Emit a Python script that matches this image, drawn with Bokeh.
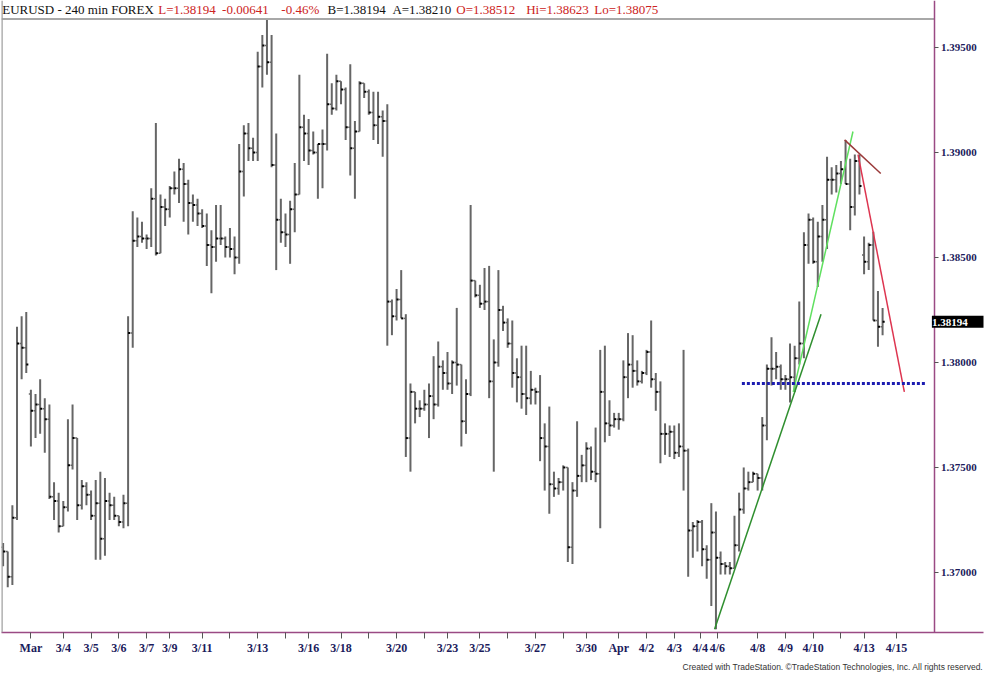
from bokeh.plotting import figure
from bokeh.models import (ColumnDataSource, FixedTicker, PrintfTickFormatter, Span,
                          Label, Title, Range1d, LinearAxis)
from bokeh.embed import file_html
from bokeh.resources import INLINE

# ---------------- data (EURUSD 240-min bars) ----------------
opens = [1.3712, 1.3710, 1.3698, 1.3726, 1.3809, 1.3807, 1.3785, 1.3777, 1.3780, 1.3778,
         1.3773, 1.3736, 1.3734, 1.3722, 1.3731, 1.3751, 1.3764, 1.3732, 1.3741, 1.3737,
         1.3727, 1.3733, 1.3716, 1.3734, 1.3732, 1.3727, 1.3724, 1.3733, 1.3814, 1.3858,
         1.3860, 1.3859, 1.3859, 1.3878, 1.3852, 1.3874, 1.3873, 1.3883, 1.3883, 1.3892,
         1.3885, 1.3876, 1.3875, 1.3871, 1.3865, 1.3856, 1.3855, 1.3859, 1.3859, 1.3855,
         1.3854, 1.3850, 1.3891, 1.3909, 1.3902, 1.3900, 1.3941, 1.3951, 1.3943, 1.3894,
         1.3868, 1.3862, 1.3861, 1.3873, 1.3880, 1.3912, 1.3909, 1.3901, 1.3900, 1.3904,
         1.3904, 1.3923, 1.3921, 1.3934, 1.3930, 1.3912, 1.3902, 1.3910, 1.3933, 1.3929,
         1.3919, 1.3913, 1.3917, 1.3915, 1.3829, 1.3822, 1.3830, 1.3821, 1.3764, 1.3786,
         1.3778, 1.3778, 1.3780, 1.3784, 1.3780, 1.3798, 1.3795, 1.3790, 1.3800, 1.3799,
         1.3772, 1.3785, 1.3839, 1.3832, 1.3828, 1.3829, 1.3791, 1.3800, 1.3825, 1.3819,
         1.3809, 1.3795, 1.3793, 1.3785, 1.3783, 1.3787, 1.3786, 1.3764, 1.3760, 1.3742,
         1.3740, 1.3743, 1.3750, 1.3712, 1.3739, 1.3746, 1.3751, 1.3759, 1.3748, 1.3747,
         1.3786, 1.3771, 1.3770, 1.3773, 1.3773, 1.3793, 1.3799, 1.3796, 1.3791, 1.3795,
         1.3805, 1.3792, 1.3786, 1.3766, 1.3766, 1.3767, 1.3757, 1.3760, 1.3758, 1.3720,
         1.3722, 1.3724, 1.3711, 1.3706, 1.3719, 1.3707, 1.3704, 1.3703, 1.3702, 1.3713,
         1.3730, 1.3740, 1.3743, 1.3747, 1.3745, 1.3770, 1.3797, 1.3797, 1.3798, 1.3792,
         1.3792, 1.3793, 1.3802, 1.3809, 1.3856, 1.3868, 1.3848, 1.3860, 1.3868, 1.3887,
         1.3887, 1.3890, 1.3892, 1.3885, 1.3874, 1.3896, 1.38512, 1.3848, 1.3856, 1.3820,
         1.3817]
highs = [1.3714, 1.3710, 1.3732, 1.3817, 1.3822, 1.3824, 1.3787, 1.3785, 1.3792, 1.3783,
         1.3780, 1.3743, 1.3738, 1.3734, 1.3773, 1.3780, 1.3764, 1.3744, 1.3743, 1.3739,
         1.3744, 1.3748, 1.3745, 1.3738, 1.3736, 1.3727, 1.3737, 1.3822, 1.3872, 1.3869,
         1.3867, 1.3861, 1.3883, 1.3914, 1.3880, 1.3878, 1.3884, 1.3891, 1.3897, 1.3895,
         1.3887, 1.3880, 1.3878, 1.3873, 1.3871, 1.3863, 1.3875, 1.3875, 1.3860, 1.3864,
         1.3860, 1.3904, 1.3913, 1.3914, 1.3907, 1.3948, 1.3956, 1.3964, 1.3956, 1.3909,
         1.3878, 1.3871, 1.3877, 1.3895, 1.3937, 1.3918, 1.3916, 1.3910, 1.3904, 1.3911,
         1.3947, 1.3933, 1.3937, 1.3934, 1.3931, 1.3942, 1.3915, 1.3934, 1.3933, 1.3930,
         1.3929, 1.3929, 1.3920, 1.3923, 1.3830, 1.3835, 1.3844, 1.3823, 1.3790, 1.3786,
         1.3782, 1.3787, 1.3790, 1.3803, 1.3810, 1.3801, 1.3805, 1.3801, 1.3826, 1.3799,
         1.3792, 1.3875, 1.3839, 1.3837, 1.3845, 1.3846, 1.3811, 1.3844, 1.3827, 1.3821,
         1.3820, 1.3802, 1.3808, 1.3808, 1.3796, 1.3788, 1.3794, 1.3771, 1.3779, 1.3748,
         1.3745, 1.3751, 1.3750, 1.3743, 1.3772, 1.3756, 1.3762, 1.3760, 1.3769, 1.3806,
         1.3808, 1.3782, 1.3776, 1.3776, 1.3801, 1.3814, 1.3813, 1.3801, 1.3796, 1.3806,
         1.3820, 1.3795, 1.3791, 1.3771, 1.3770, 1.3770, 1.3771, 1.3806, 1.3759, 1.3724,
         1.3725, 1.3725, 1.3713, 1.3733, 1.3729, 1.3710, 1.3705, 1.3705, 1.3727, 1.3738,
         1.3750, 1.3748, 1.3748, 1.3747, 1.3774, 1.3799, 1.3812, 1.3805, 1.3799, 1.3794,
         1.3809, 1.3808, 1.3829, 1.3862, 1.3871, 1.3869, 1.3867, 1.3875, 1.3898, 1.3893,
         1.3894, 1.3896, 1.3906, 1.3897, 1.3899, 1.3899, 1.3860, 1.3857, 1.38623, 1.3834,
         1.3826]
lows = [1.3703, 1.3693, 1.3694, 1.3725, 1.3792, 1.3795, 1.3760, 1.3764, 1.3766, 1.3757,
        1.3735, 1.3725, 1.3719, 1.3722, 1.3729, 1.3749, 1.3725, 1.3730, 1.3732, 1.3725,
        1.3706, 1.3706, 1.3708, 1.3725, 1.3725, 1.3722, 1.3721, 1.3722, 1.3807, 1.3855,
        1.3857, 1.3854, 1.3855, 1.3851, 1.3852, 1.3865, 1.3869, 1.3880, 1.3876, 1.3867,
        1.3861, 1.3867, 1.3865, 1.3864, 1.3846, 1.3833, 1.3848, 1.3856, 1.3850, 1.3850,
        1.3842, 1.3847, 1.3879, 1.3896, 1.3896, 1.3896, 1.3931, 1.3937, 1.3893, 1.3844,
        1.3857, 1.3855, 1.3847, 1.3862, 1.3880, 1.3896, 1.3894, 1.3899, 1.3878, 1.3883,
        1.3901, 1.3918, 1.3920, 1.3923, 1.3906, 1.3889, 1.3878, 1.3910, 1.3926, 1.3918,
        1.3906, 1.3904, 1.3898, 1.3808, 1.3813, 1.3820, 1.3821, 1.3755, 1.3748, 1.3771,
        1.3774, 1.3777, 1.3764, 1.3773, 1.3779, 1.3787, 1.3787, 1.3785, 1.3789, 1.3760,
        1.3766, 1.3784, 1.3831, 1.3826, 1.3825, 1.3783, 1.3748, 1.3798, 1.3815, 1.3807,
        1.3788, 1.3781, 1.3778, 1.3775, 1.3780, 1.3780, 1.3753, 1.3739, 1.3728, 1.3736,
        1.3737, 1.3739, 1.3705, 1.3704, 1.3736, 1.3743, 1.3743, 1.3744, 1.3743, 1.3721,
        1.3762, 1.3765, 1.3769, 1.3768, 1.3772, 1.3783, 1.3788, 1.3789, 1.3790, 1.3794,
        1.3788, 1.3777, 1.3752, 1.3756, 1.3755, 1.3754, 1.3755, 1.3739, 1.3698, 1.3707,
        1.3710, 1.3703, 1.3697, 1.3684, 1.3673, 1.3699, 1.3699, 1.3699, 1.3702, 1.3710,
        1.3728, 1.3739, 1.3743, 1.3739, 1.3739, 1.3763, 1.3789, 1.3792, 1.3787, 1.3787,
        1.3781, 1.3786, 1.3799, 1.3802, 1.3847, 1.3847, 1.3836, 1.3848, 1.3854, 1.3880,
        1.3881, 1.3885, 1.3885, 1.3863, 1.3870, 1.3880, 1.3842, 1.3844, 1.3820, 1.38075,
        1.3813]
closes = [1.3710, 1.3698, 1.3726, 1.3809, 1.3807, 1.3799, 1.3777, 1.3780, 1.3778, 1.3773,
          1.3736, 1.3734, 1.3722, 1.3731, 1.3751, 1.3764, 1.3732, 1.3741, 1.3737, 1.3727,
          1.3733, 1.3716, 1.3734, 1.3732, 1.3727, 1.3724, 1.3733, 1.3814, 1.3858, 1.3860,
          1.3859, 1.3859, 1.3878, 1.3852, 1.3874, 1.3873, 1.3883, 1.3883, 1.3892, 1.3885,
          1.3876, 1.3875, 1.3871, 1.3865, 1.3856, 1.3855, 1.3859, 1.3859, 1.3855, 1.3854,
          1.3850, 1.3891, 1.3909, 1.3902, 1.3900, 1.3941, 1.3951, 1.3943, 1.3894, 1.3868,
          1.3862, 1.3861, 1.3873, 1.3880, 1.3912, 1.3909, 1.3901, 1.3900, 1.3904, 1.3904,
          1.3923, 1.3921, 1.3934, 1.3930, 1.3912, 1.3902, 1.3910, 1.3933, 1.3929, 1.3919,
          1.3913, 1.3917, 1.3915, 1.3829, 1.3822, 1.3830, 1.3821, 1.3764, 1.3786, 1.3778,
          1.3778, 1.3780, 1.3784, 1.3780, 1.3798, 1.3795, 1.3790, 1.3800, 1.3799, 1.3772,
          1.3785, 1.3839, 1.3832, 1.3828, 1.3829, 1.3791, 1.3800, 1.3825, 1.3819, 1.3809,
          1.3795, 1.3793, 1.3785, 1.3783, 1.3787, 1.3786, 1.3764, 1.3760, 1.3742, 1.3740,
          1.3743, 1.3750, 1.3712, 1.3739, 1.3746, 1.3751, 1.3759, 1.3748, 1.3747, 1.3786,
          1.3771, 1.3770, 1.3773, 1.3773, 1.3793, 1.3799, 1.3796, 1.3791, 1.3795, 1.3805,
          1.3792, 1.3786, 1.3766, 1.3766, 1.3767, 1.3757, 1.3760, 1.3758, 1.3720, 1.3722,
          1.3724, 1.3711, 1.3706, 1.3719, 1.3707, 1.3704, 1.3703, 1.3702, 1.3713, 1.3730,
          1.3740, 1.3743, 1.3747, 1.3745, 1.3770, 1.3797, 1.3797, 1.3798, 1.3792, 1.3792,
          1.3793, 1.3802, 1.3809, 1.3856, 1.3868, 1.3848, 1.3860, 1.3868, 1.3887, 1.3887,
          1.3890, 1.3892, 1.3885, 1.3874, 1.3896, 1.3884, 1.3848, 1.3856, 1.3820, 1.3817,
          1.38194]

date_tick_bars = [6, 13, 19, 25, 31, 36, 43, 49, 55, 61, 66, 73, 79, 85, 91, 96, 103, 109,
                  115, 121, 126, 133, 139, 145, 150.6, 154.3, 163, 169, 175, 181, 186, 193]
date_labels = ["Mar", "3/4", "3/5", "3/6", "3/7", "3/9", "3/11", "", "3/13", "", "3/16",
               "3/18", "", "3/20", "", "3/23", "3/25", "", "3/27", "", "3/30", "Apr", "4/2",
               "4/3", "4/4", "4/6", "4/8", "4/9", "4/10", "", "4/13", "4/15"]
price_ticks = [1.370, 1.375, 1.380, 1.385, 1.390, 1.395]

# hand-drawn trend lines (bar index, price)
dark_green_x = [153.7, 176.7]
dark_green_y = [1.3673, 1.3823]
light_green_x = [170.7, 183.6]
light_green_y = [1.3786, 1.3910]
red_x = [184.7, 194.7]
red_y = [1.3899, 1.3786]
brown_x = [181.8, 189.6]
brown_y = [1.3906, 1.3890]
support_x = [159.6, 199.4]
support_y = [1.3790, 1.3790]

header_parts = ["EURUSD - 240 min  FOREX", "L=1.38194", "-0.00641", "-0.46%", "B=1.38194",
                "A=1.38210", "O=1.38512", "Hi=1.38623", "Lo=1.38075"]
header_x = [-0.2, 33.5, 47.3, 60.1, 70.1, 84.1, 97.9, 113.0, 127.7]
header_colors = ["#111111", "#cc2222", "#cc2222", "#cc2222", "#111111", "#111111",
                 "#cc2222", "#cc2222", "#cc2222"]
last_price = 1.38194

# ---------------- figure ----------------
price_axis_x = 201.3          # bar-index position of the price scale
bar_index = list(range(len(closes)))
src = ColumnDataSource(dict(
    x=bar_index,
    xl=[i - 0.45 for i in bar_index],
    xr=[i + 0.45 for i in bar_index],
    o=opens, h=highs, l=lows, c=closes))

p = figure(width=984, height=673, output_backend="svg", toolbar_location=None,
           x_range=Range1d(-0.35, 211.8), y_range=Range1d(1.36714, 1.39724),
           y_axis_location=None, min_border_left=1, min_border_top=0,
           min_border_right=1, min_border_bottom=0)
p.outline_line_color = None
p.xgrid.grid_line_color = None
p.ygrid.grid_line_color = None
p.background_fill_color = "white"
p.border_fill_color = "white"

bar_color = "#666666"
p.segment(x0="x", y0="l", x1="x", y1="h", source=src, line_color=bar_color, line_width=2)
p.segment(x0="xl", y0="o", x1="x", y1="o", source=src, line_color=bar_color, line_width=1.5)
p.segment(x0="x", y0="c", x1="xr", y1="c", source=src, line_color="#000000", line_width=2)

# frame borders (gray)
p.segment(x0=[-0.35], y0=[1.39636], x1=[price_axis_x], y1=[1.39636],
          line_color="#a8a8a8", line_width=2)
p.add_layout(Span(location=-0.3, dimension="height", line_color="#a0a0a0", line_width=2))

# trend lines
p.line(dark_green_x, dark_green_y, line_color="#2f8f2f", line_width=1.5)
p.line(light_green_x, light_green_y, line_color="#5fe05f", line_width=1.5)
p.line(red_x, red_y, line_color="#dd3550", line_width=1.5)
p.line(brown_x, brown_y, line_color="#9a3a3a", line_width=1.5)
p.line(support_x, support_y, line_color="#1c1cb0", line_width=3, line_dash="3 2")

# header texts
for txt, xx, col in zip(header_parts, header_x, header_colors):
    p.add_layout(Label(x=xx, y=1.39680, text=txt, text_color=col,
                       text_font="Liberation Serif", text_font_size="13px",
                       text_baseline="middle", text_align="left"))

# axes
axis_col = "#9a4a84"
label_col = "#1c1c5c"
p.xaxis.ticker = FixedTicker(ticks=date_tick_bars)
p.xaxis.major_label_overrides = {t: lab for t, lab in zip(date_tick_bars, date_labels)}
p.xaxis.minor_tick_line_color = None
p.xaxis.major_tick_in = 0
p.xaxis.major_tick_out = 6
p.xaxis.axis_line_color = axis_col
p.xaxis.axis_line_width = 1.5
p.xaxis.major_tick_line_color = "#555555"
p.xaxis.major_label_text_font = "Liberation Serif"
p.xaxis.major_label_text_font_size = "12px"
p.xaxis.major_label_text_font_style = "bold"
p.xaxis.major_label_text_color = label_col
p.xaxis.major_label_standoff = 2

price_axis = LinearAxis(fixed_location=price_axis_x,
                        ticker=FixedTicker(ticks=price_ticks),
                        formatter=PrintfTickFormatter(format="%.5f"))
price_axis.minor_tick_line_color = None
price_axis.major_tick_in = 0
price_axis.major_tick_out = 4
price_axis.axis_line_color = axis_col
price_axis.axis_line_width = 1.5
price_axis.major_tick_line_color = "#555555"
price_axis.major_label_text_font = "Liberation Serif"
price_axis.major_label_text_font_size = "11px"
price_axis.major_label_text_font_style = "bold"
price_axis.major_label_text_color = label_col
price_axis.major_label_standoff = 2
p.add_layout(price_axis, "right")

# last price tag on the price scale
p.add_layout(Label(x=price_axis_x, y=last_price, text=" 1.38194     ", x_offset=-3,
                   text_color="white", text_font="Liberation Serif", text_font_size="11px",
                   text_font_style="bold", text_baseline="middle",
                   background_fill_color="black", background_fill_alpha=1.0))

p.add_layout(Title(text="Created with TradeStation. \u00a9TradeStation Technologies, Inc. All rights reserved.",
                   align="right", text_font="Liberation Sans", text_font_size="8.5px",
                   text_font_style="normal", text_color="#333333", standoff=4, offset=0), "below")

open("out.html", "w").write(file_html(p, INLINE))
